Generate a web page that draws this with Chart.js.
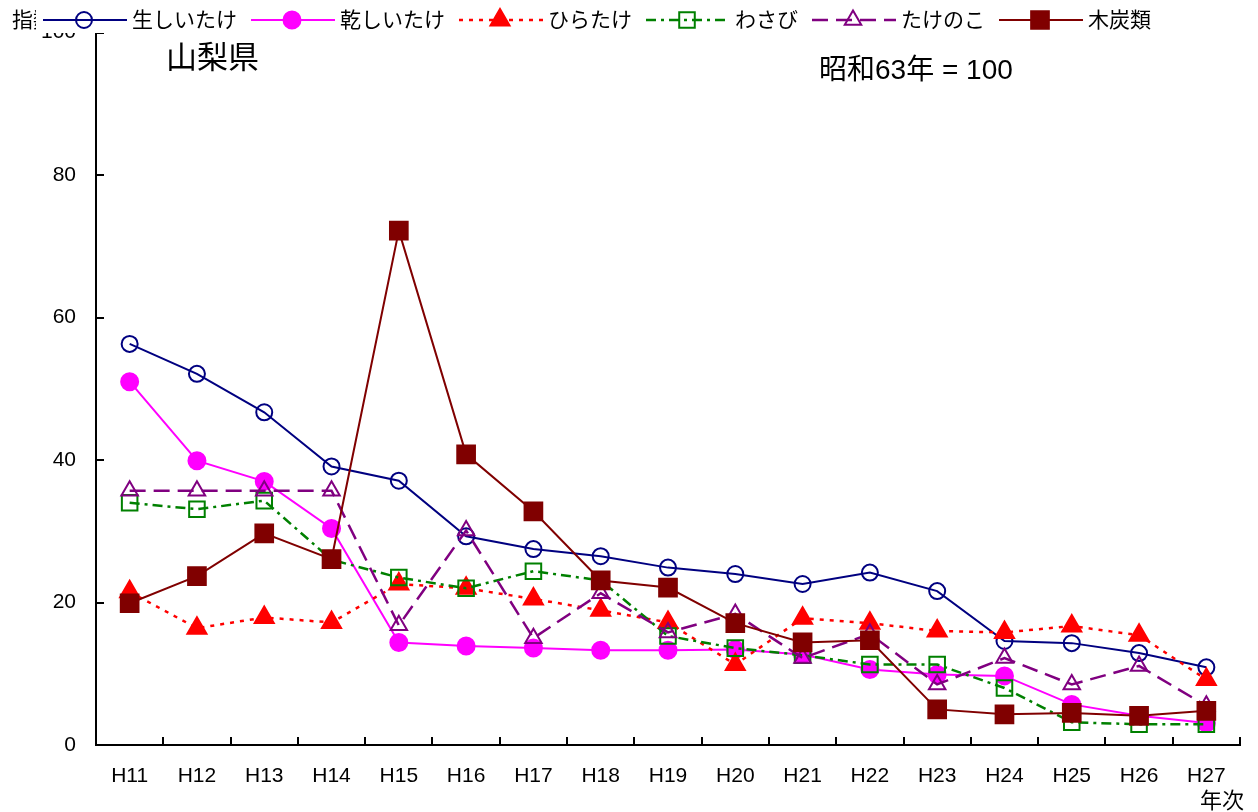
<!DOCTYPE html>
<html>
<head>
<meta charset="utf-8">
<script src="https://cdn.jsdelivr.net/npm/chart.js@4/dist/chart.umd.min.js"></script>
<style>
  html, body { margin: 0; padding: 0; background: #fff; }
  #wrap { width: 1258px; height: 812px; position: relative; }
</style>
</head>
<body>
<div id="wrap"><canvas id="chart" width="1258" height="812"></canvas></div>
<script>
// categories and series (index, 昭和63年 = 100)
const years = ['H11','H12','H13','H14','H15','H16','H17','H18','H19','H20','H21','H22','H23','H24','H25','H26','H27'];
const namaShiitake = [56.3, 52.1, 46.7, 39.1, 37.1, 29.3, 27.5, 26.5, 24.9, 24.0, 22.6, 24.2, 21.6, 14.6, 14.3, 12.9, 10.9];
const hoshiShiitake = [51.0, 39.9, 37.0, 30.4, 14.4, 13.9, 13.6, 13.3, 13.3, 13.4, 12.7, 10.6, 9.9, 9.7, 5.7, 4.1, 3.1];
const hiratake = [21.5, 16.4, 17.9, 17.2, 22.6, 22.0, 20.5, 18.9, 17.2, 11.3, 17.8, 17.1, 16.0, 15.8, 16.7, 15.4, 9.2];
const wasabi = [34.0, 33.1, 34.3, 26.0, 23.5, 22.0, 24.4, 23.1, 15.3, 13.6, 12.6, 11.3, 11.3, 8.0, 3.2, 2.9, 2.9];
const takenoko = [35.7, 35.7, 35.7, 35.7, 16.8, 30.1, 15.0, 21.3, 15.8, 18.4, 12.2, 15.6, 8.5, 12.2, 8.5, 11.1, 5.5];
const mokutan = [19.9, 23.7, 29.7, 26.1, 72.2, 40.8, 32.8, 23.1, 22.1, 17.1, 14.4, 14.7, 5.0, 4.3, 4.5, 4.1, 4.8];
const yTicks = [0, 20, 40, 60, 80, 100];

const numFont = '"Liberation Sans", Arial, sans-serif';
const jpFont = '"Noto Sans CJK JP", "Liberation Sans", sans-serif';
const mixFont = '"Liberation Sans", "Noto Sans CJK JP", sans-serif';

// series styles
const seriesDefs = [
    { label: '生しいたけ', data: namaShiitake, color: '#000080', dash: [], style: 'circle', radius: 8, fill: false },
    { label: '乾しいたけ', data: hoshiShiitake, color: '#FF00FF', dash: [], style: 'circle', radius: 8.5, fill: true },
    { label: 'ひらたけ', data: hiratake, color: '#FF0000', dash: [4, 6], style: 'triangle', radius: 11, fill: true },
    { label: 'わさび', data: wasabi, color: '#008000', dash: [10, 5, 3, 5], style: 'rect', radius: 11, fill: false },
    { label: 'たけのこ', data: takenoko, color: '#800080', dash: [16, 8], style: 'triangle', radius: 9.5, fill: false },
    { label: '木炭類', data: mokutan, color: '#800000', dash: [], style: 'rect', radius: 12.5, fill: true }
];

function drawMarker(ctx, s, x, y) {
    ctx.save();
    ctx.setLineDash([]);
    ctx.lineWidth = 2;
    ctx.strokeStyle = s.color;
    ctx.fillStyle = s.color;
    ctx.beginPath();
    const r = s.radius;
    if (s.style === 'circle') {
        ctx.arc(x, y, r, 0, Math.PI * 2);
    } else if (s.style === 'triangle') {
        ctx.moveTo(x, y - r);
        ctx.lineTo(x + Math.sin(2 * Math.PI / 3) * r, y + r / 2);
        ctx.lineTo(x - Math.sin(2 * Math.PI / 3) * r, y + r / 2);
        ctx.closePath();
    } else {
        const h = r * Math.SQRT1_2;
        ctx.rect(x - h, y - h, 2 * h, 2 * h);
    }
    if (s.fill) ctx.fill();
    ctx.stroke();
    ctx.restore();
}

// inward tick marks, texts and the legend strip
const decorations = {
    id: 'decorations',
    afterDraw(chart) {
        const ctx = chart.ctx;
        const area = chart.chartArea;
        const ys = chart.scales.y;
        ctx.save();
        ctx.strokeStyle = '#000';
        ctx.lineWidth = 2;
        ctx.beginPath();
        const step = (area.right - area.left) / years.length;
        for (let i = 1; i <= years.length; i++) {
            const x = Math.round(area.left + i * step);
            ctx.moveTo(x, area.bottom);
            ctx.lineTo(x, area.bottom - 8);
        }
        yTicks.forEach(v => {
            const y = Math.round(ys.getPixelForValue(v));
            ctx.moveTo(area.left, y);
            ctx.lineTo(area.left + 8, y);
        });
        ctx.stroke();

        ctx.fillStyle = '#000';
        ctx.textBaseline = 'middle';
        ctx.textAlign = 'left';
        ctx.font = '31px ' + jpFont;
        ctx.fillText('山梨県', 166, 56);
        ctx.font = '28px ' + mixFont;
        ctx.fillText('昭和63年 = 100', 819, 71);
        ctx.font = '22px ' + jpFont;
        ctx.fillText('年次', 1200, 800);
        ctx.font = '21px ' + jpFont;
        ctx.fillText('指数', 12, 19);

        // legend
        ctx.fillStyle = '#fff';
        ctx.fillRect(36, 0, 1130, 33);
        let x = 43;
        const ly = 20;
        seriesDefs.forEach(s => {
            ctx.save();
            ctx.strokeStyle = s.color;
            ctx.lineWidth = s.dash.length ? 2.5 : 2;
            ctx.setLineDash(s.dash);
            ctx.beginPath();
            ctx.moveTo(x, ly);
            ctx.lineTo(x + 84, ly);
            ctx.stroke();
            ctx.restore();
            drawMarker(ctx, s, x + 41, ly);
            ctx.fillStyle = '#000';
            ctx.font = '21px ' + jpFont;
            ctx.fillText(s.label, x + 89, ly - 1);
            x += 89 + ctx.measureText(s.label).width + 14;
        });
        ctx.restore();
    }
};

const ctx = document.getElementById('chart').getContext('2d');
new Chart(ctx, {
    type: 'line',
    data: {
        labels: years,
        datasets: seriesDefs.map((s, i) => ({
            label: s.label,
            data: s.data,
            borderColor: s.color,
            borderWidth: s.dash.length ? 2.5 : 2,
            borderDash: s.dash,
            pointStyle: s.style,
            pointRadius: s.radius,
            pointBorderWidth: 2,
            pointBorderColor: s.color,
            pointBackgroundColor: s.fill ? s.color : 'transparent',
            fill: false,
            tension: 0,
            order: seriesDefs.length - i,
            clip: false
        }))
    },
    options: {
        responsive: false,
        animation: false,
        layout: {
            padding: { top: 31, right: 18, bottom: 0, left: 0 }
        },
        plugins: {
            legend: { display: false },
            tooltip: { enabled: false }
        },
        scales: {
            x: {
                offset: true,
                grid: { display: false, drawTicks: false },
                border: { display: true, color: '#000', width: 2 },
                ticks: {
                    color: '#000',
                    padding: 19,
                    maxRotation: 0,
                    font: { family: numFont, size: 21 }
                },
                afterFit: function(scale) { scale.height = 67; }
            },
            y: {
                min: 0,
                max: 100,
                afterBuildTicks: function(scale) {
                    scale.ticks = yTicks.map(v => ({ value: v }));
                },
                grid: { display: false, drawTicks: false },
                border: { display: true, color: '#000', width: 2 },
                ticks: {
                    color: '#000',
                    padding: 20,
                    font: { family: numFont, size: 21 }
                },
                afterFit: function(scale) { scale.width = 96; }
            }
        }
    },
    plugins: [decorations]
});
</script>
</body>
</html>
